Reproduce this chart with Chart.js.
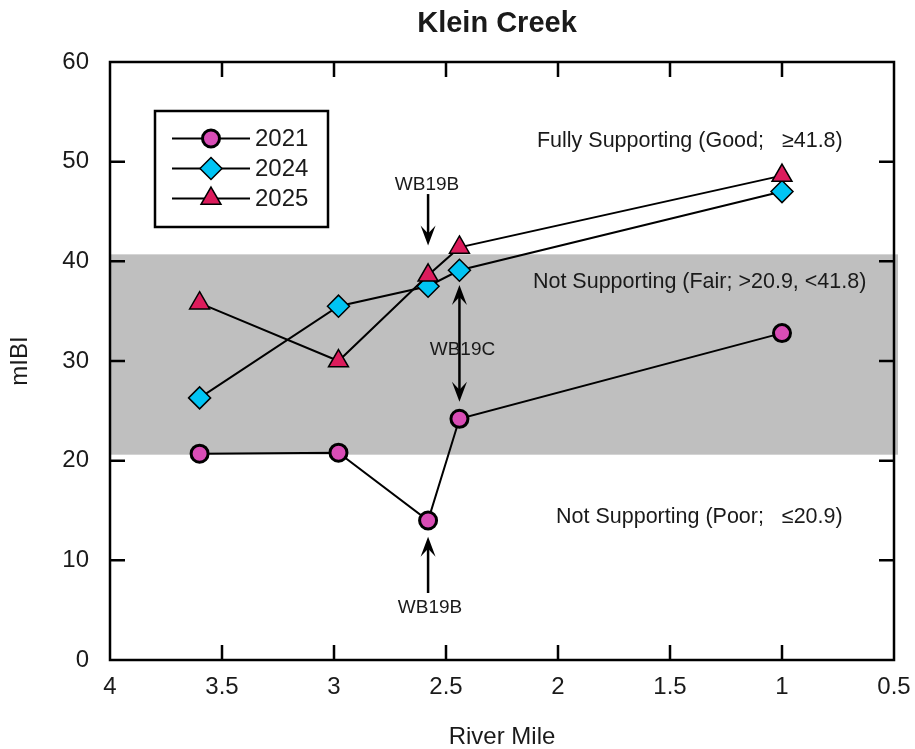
<!DOCTYPE html>
<html><head><meta charset="utf-8">
<script src="https://cdn.jsdelivr.net/npm/chart.js@4"></script>
<style>html,body{margin:0;padding:0;background:#fff}canvas{display:block}</style>
</head><body>
<canvas id="c" width="915" height="749"></canvas>
<script>
// ---- data ----
const chartTitle = 'Klein Creek';
const xAxisTitle = 'River Mile';
const yAxisTitle = 'mIBI';
const seriesNames = ['2021', '2024', '2025'];
const riverMile = [3.6, 2.98, 2.58, 2.44, 1.0];
const mibi2021 = [20.7, 20.8, 14.0, 24.2, 32.8];
const mibi2024 = [26.3, 35.5, 37.5, 39.1, 47.0];
const mibi2025 = [35.8, 30.0, 38.6, 41.4, 48.6];
const xTicks = [4, 3.5, 3, 2.5, 2, 1.5, 1, 0.5];
const xTickLabels = ['4', '3.5', '3', '2.5', '2', '1.5', '1', '0.5'];
const yTicks = [0, 10, 20, 30, 40, 50, 60];
const yTickLabels = ['0', '10', '20', '30', '40', '50', '60'];
const fairBand = [20.6, 40.7];
const zoneLabels = ['Fully Supporting (Good;   \u226541.8)', 'Not Supporting (Fair; >20.9, <41.8)', 'Not Supporting (Poor;   \u226420.9)'];
const siteLabels = ['WB19B', 'WB19C', 'WB19B'];

// ---- styles / layout ----
const FONT = "'Liberation Sans', Arial, sans-serif";
const TEXT = '#1a1a1a';
const zonePos = [{x: 2.094, y: 52.05}, {x: 2.112, y: 37.95}, {x: 2.009, y: 14.38}];
// arrows: x, tail y, tip y(s), label y (data units)
const arrows = [
  {x: 2.58, from: 46.75, tips: [41.6], label: 47.65, labelDx: -1},
  {x: 2.44, from: 31.7, tips: [37.62, 25.92], label: 31.1, labelDx: 3},
  {x: 2.58, from: 6.72, tips: [12.37], label: 5.2, labelDx: 2}
];

function marker(ctx, style, x, y, r, fill, bw) {
  ctx.save();
  ctx.beginPath();
  if (style === 'circle') {
    ctx.arc(x, y, r, 0, Math.PI * 2);
  } else if (style === 'rectRot') {
    ctx.moveTo(x - r, y); ctx.lineTo(x, y - r); ctx.lineTo(x + r, y); ctx.lineTo(x, y + r);
  } else {
    ctx.moveTo(x, y - r);
    ctx.lineTo(x + Math.sin(2 * Math.PI / 3) * r, y - Math.cos(2 * Math.PI / 3) * r);
    ctx.lineTo(x + Math.sin(4 * Math.PI / 3) * r, y - Math.cos(4 * Math.PI / 3) * r);
  }
  ctx.closePath();
  ctx.fillStyle = fill; ctx.fill();
  ctx.lineWidth = bw; ctx.strokeStyle = '#000'; ctx.stroke();
  ctx.restore();
}

function arrowHead(ctx, x, y, dir) {
  const L = 20, W = 7.5, N = 12;
  ctx.beginPath();
  ctx.moveTo(x, y);
  ctx.lineTo(x - W, y - dir * L);
  ctx.lineTo(x, y - dir * N);
  ctx.lineTo(x + W, y - dir * L);
  ctx.closePath();
  ctx.fill();
}

const decor = {
  id: 'decor',
  beforeDatasetsDraw(chart) {
    const {ctx, chartArea: a, scales: {x, y}} = chart;
    ctx.save();
    // band
    const bt = y.getPixelForValue(fairBand[1]), bb = y.getPixelForValue(fairBand[0]);
    ctx.fillStyle = '#bfbfbf';
    ctx.fillRect(a.left, bt, a.right - a.left + 4, bb - bt);
    // frame
    ctx.strokeStyle = '#000'; ctx.lineWidth = 2.5;
    ctx.strokeRect(a.left, a.top, a.right - a.left, a.bottom - a.top);
    // inward ticks
    const TL = 15;
    ctx.beginPath();
    xTicks.forEach(v => {
      const px = x.getPixelForValue(v);
      if (Math.abs(px - a.left) < 2 || Math.abs(px - a.right) < 2) return;
      ctx.moveTo(px, a.bottom); ctx.lineTo(px, a.bottom - TL);
      ctx.moveTo(px, a.top); ctx.lineTo(px, a.top + TL);
    });
    yTicks.forEach(v => {
      const py = y.getPixelForValue(v);
      if (Math.abs(py - a.top) < 2 || Math.abs(py - a.bottom) < 2) return;
      ctx.moveTo(a.left, py); ctx.lineTo(a.left + TL, py);
      ctx.moveTo(a.right, py); ctx.lineTo(a.right - TL, py);
    });
    ctx.stroke();
    // zone labels
    ctx.fillStyle = TEXT;
    ctx.font = '21.5px ' + FONT;
    ctx.textAlign = 'left'; ctx.textBaseline = 'middle';
    zoneLabels.forEach((t, i) => {
      ctx.fillText(t, x.getPixelForValue(zonePos[i].x), y.getPixelForValue(zonePos[i].y));
    });
    ctx.restore();
  },
  afterDatasetsDraw(chart) {
    const {ctx, scales: {x, y}} = chart;
    ctx.save();
    // arrows + site labels
    ctx.strokeStyle = '#000'; ctx.fillStyle = '#000'; ctx.lineWidth = 2.5;
    arrows.forEach((ar, i) => {
      const px = x.getPixelForValue(ar.x);
      const ys = ar.tips.map(v => y.getPixelForValue(v));
      const y0 = y.getPixelForValue(ar.from);
      ctx.beginPath();
      if (ys.length === 2) { ctx.moveTo(px, ys[0] + 10); ctx.lineTo(px, ys[1] - 10); }
      else { const dir = ys[0] > y0 ? 1 : -1; ctx.moveTo(px, y0); ctx.lineTo(px, ys[0] - dir * 10); }
      ctx.stroke();
      ys.forEach(ty => {
        const dir = ys.length === 2 ? (ty > y.getPixelForValue(ar.label) ? 1 : -1) : (ty > y0 ? 1 : -1);
        arrowHead(ctx, px, ty, dir);
      });
      ctx.fillStyle = TEXT;
      ctx.font = '19px ' + FONT;
      ctx.textAlign = 'center'; ctx.textBaseline = 'middle';
      ctx.fillText(siteLabels[i], px + ar.labelDx, y.getPixelForValue(ar.label));
      ctx.fillStyle = '#000';
    });
    // legend
    ctx.lineWidth = 2.5; ctx.strokeStyle = '#000';
    ctx.strokeRect(155, 111, 173, 116);
    chart.data.datasets.forEach((ds, i) => {
      const ly = 138.5 + 30 * i;
      ctx.beginPath(); ctx.lineWidth = 2; ctx.moveTo(172, ly); ctx.lineTo(250, ly); ctx.stroke();
      marker(ctx, ds.pointStyle, 211, ly, ds.pointRadius, ds.pointBackgroundColor, ds.pointBorderWidth);
      ctx.fillStyle = TEXT; ctx.font = '24px ' + FONT;
      ctx.textAlign = 'left'; ctx.textBaseline = 'middle';
      ctx.fillText(ds.label, 255, ly + 1);
    });
    ctx.restore();
  },
  afterDraw(chart) {
    const {ctx, chartArea: a} = chart;
    ctx.save();
    ctx.fillStyle = TEXT;
    ctx.textAlign = 'center'; ctx.textBaseline = 'middle';
    ctx.font = 'bold 29px ' + FONT;
    ctx.fillText(chartTitle, 497, 24);
    ctx.font = '24px ' + FONT;
    ctx.fillText(xAxisTitle, (a.left + a.right) / 2, 737);
    ctx.translate(20, (a.top + a.bottom) / 2);
    ctx.rotate(-Math.PI / 2);
    ctx.fillText(yAxisTitle, 0, 0);
    ctx.restore();
  }
};

const toPts = vals => riverMile.map((m, i) => ({x: m, y: vals[i]}));
const common = {showLine: true, borderColor: '#000', borderWidth: 2, pointBorderColor: '#000', tension: 0};

new Chart(document.getElementById('c'), {
  type: 'scatter',
  data: {
    datasets: [
      Object.assign({label: seriesNames[0], data: toPts(mibi2021), pointStyle: 'circle', pointRadius: 8.5, pointHoverRadius: 8.5, pointBorderWidth: 3, pointBackgroundColor: '#d94db6', order: 3}, common),
      Object.assign({label: seriesNames[1], data: toPts(mibi2024), pointStyle: 'rectRot', pointRadius: 11, pointHoverRadius: 11, pointBorderWidth: 1.5, pointBackgroundColor: '#00c4f4', order: 2}, common),
      Object.assign({label: seriesNames[2], data: toPts(mibi2025), pointStyle: 'triangle', pointRadius: 11.5, pointHoverRadius: 11.5, pointBorderWidth: 1.5, pointBackgroundColor: '#dc1c5c', order: 1}, common)
    ]
  },
  options: {
    responsive: false,
    animation: false,
    events: [],
    layout: {padding: {top: 62, right: 21, left: 0, bottom: 0}},
    plugins: {legend: {display: false}, title: {display: false}, tooltip: {enabled: false}},
    scales: {
      x: {
        type: 'linear', reverse: true, min: 0.5, max: 4,
        afterBuildTicks: s => { s.ticks = xTicks.map(v => ({value: v})); },
        afterFit: s => { s.height = 89; s.paddingLeft = 0; s.paddingRight = 0; },
        ticks: {callback: (v, i) => xTickLabels[i], font: {family: FONT, size: 24}, color: TEXT, padding: 13, maxRotation: 0, autoSkip: false},
        grid: {display: false, drawTicks: false},
        border: {display: false}
      },
      y: {
        type: 'linear', min: 0, max: 60,
        afterBuildTicks: s => { s.ticks = yTicks.map(v => ({value: v})); },
        afterFit: s => { s.width = 110; s.paddingTop = 0; s.paddingBottom = 0; },
        ticks: {callback: (v, i) => yTickLabels[i], font: {family: FONT, size: 24}, color: TEXT, padding: 21, autoSkip: false},
        grid: {display: false, drawTicks: false},
        border: {display: false}
      }
    }
  },
  plugins: [decor]
});
</script>
</body></html>
